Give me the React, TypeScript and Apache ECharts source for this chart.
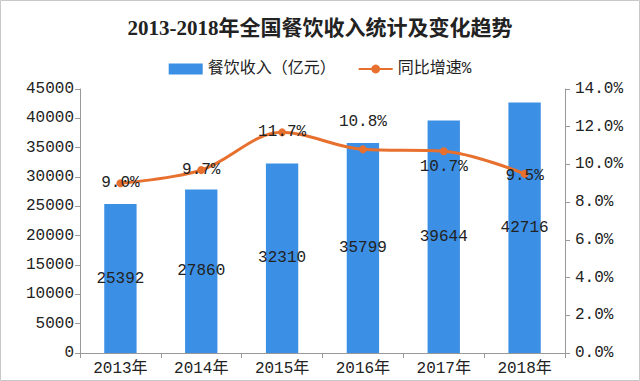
import React, { useEffect, useRef } from "react";
import * as echarts from "echarts";

const categories = ["2013年", "2014年", "2015年", "2016年", "2017年", "2018年"];
const revenue = [25392, 27860, 32310, 35799, 39644, 42716];
const growth = [9.0, 9.7, 11.7, 10.8, 10.7, 9.5];
const growthLabelOffsets = [[0, 0], [0, 0], [0, 0], [0, -27], [0, 16], [0, 2]];

const MONO = "'Liberation Mono', 'Noto Sans CJK SC', monospace";
const BLUE = "#3B8FE4";
const ORANGE = "#E8702E";

export default function App() {
  const ref = useRef<HTMLDivElement>(null);
  useEffect(() => {
    document.body.style.margin = "0";
    const chart = echarts.init(ref.current!, null, { renderer: "svg" });
    chart.setOption({
      animation: false,
      backgroundColor: "#fff",
      title: {
        text: "2013-2018年全国餐饮收入统计及变化趋势",
        left: "center",
        top: 12,
        textStyle: {
          fontFamily: "'Liberation Serif', 'Noto Sans CJK SC', serif",
          fontWeight: "bold",
          fontSize: 21,
          color: "#222",
        },
      },
      legend: {
        top: 56,
        left: "center",
        itemGap: 22,
        itemWidth: 34,
        itemHeight: 11,
        textStyle: { fontFamily: MONO, fontSize: 16, color: "#222" },
        data: [
          { name: "餐饮收入（亿元）", icon: "rect" },
          { name: "同比增速%" },
        ],
      },
      graphic: [
        {
          type: "rect",
          shape: { x: 0.5, y: 0.5, width: 639, height: 380 },
          style: { fill: "none", stroke: "#c8c8c8", lineWidth: 1 },
          silent: true,
        },
      ],
      grid: { left: 80, right: 75, top: 89, bottom: 28 },
      xAxis: {
        type: "category",
        data: categories,
        axisLine: { lineStyle: { color: "#999" } },
        axisTick: { show: true, length: 5, lineStyle: { color: "#999" } },
        axisLabel: { fontFamily: MONO, fontSize: 16, color: "#222", margin: 8 },
      },
      yAxis: [
        {
          type: "value",
          min: 0,
          max: 45000,
          interval: 5000,
          splitLine: { show: false },
          axisLine: { show: true, lineStyle: { color: "#999" } },
          axisTick: { show: true, length: 5, lineStyle: { color: "#999" } },
          axisLabel: {
            fontFamily: MONO,
            fontSize: 16,
            color: "#222",
            margin: 6,
            formatter: (v: number) => String(v),
          },
        },
        {
          type: "value",
          min: 0,
          max: 14,
          interval: 2,
          splitLine: { show: false },
          axisLine: { show: true, lineStyle: { color: "#999" } },
          axisTick: { show: true, length: 5, lineStyle: { color: "#999" } },
          axisLabel: {
            fontFamily: MONO,
            fontSize: 16,
            color: "#222",
            margin: 10,
            formatter: (v: number) => v.toFixed(1) + "%",
          },
        },
      ],
      series: [
        {
          name: "餐饮收入（亿元）",
          type: "bar",
          data: revenue,
          barWidth: "40%",
          itemStyle: { color: BLUE },
          label: {
            show: true,
            position: "inside",
            fontFamily: MONO,
            fontSize: 16,
            color: "#222",
          },
        },
        {
          name: "同比增速%",
          type: "line",
          yAxisIndex: 1,
          smooth: 0.35,
          symbol: "circle",
          symbolSize: 8,
          lineStyle: { color: ORANGE, width: 3 },
          itemStyle: { color: ORANGE },
          data: growth.map((v, i) => ({
            value: v,
            label: { offset: growthLabelOffsets[i] },
          })),
          label: {
            show: true,
            position: "inside",
            fontFamily: MONO,
            fontSize: 16,
            color: "#222",
            formatter: (p: any) => p.value.toFixed(1) + "%",
          },
          z: 5,
        },
      ],
    });
    return () => chart.dispose();
  }, []);
  return (
    <div
      ref={ref}
      style={{ position: "absolute", left: 0, top: 0, width: 640, height: 381 }}
    />
  );
}
